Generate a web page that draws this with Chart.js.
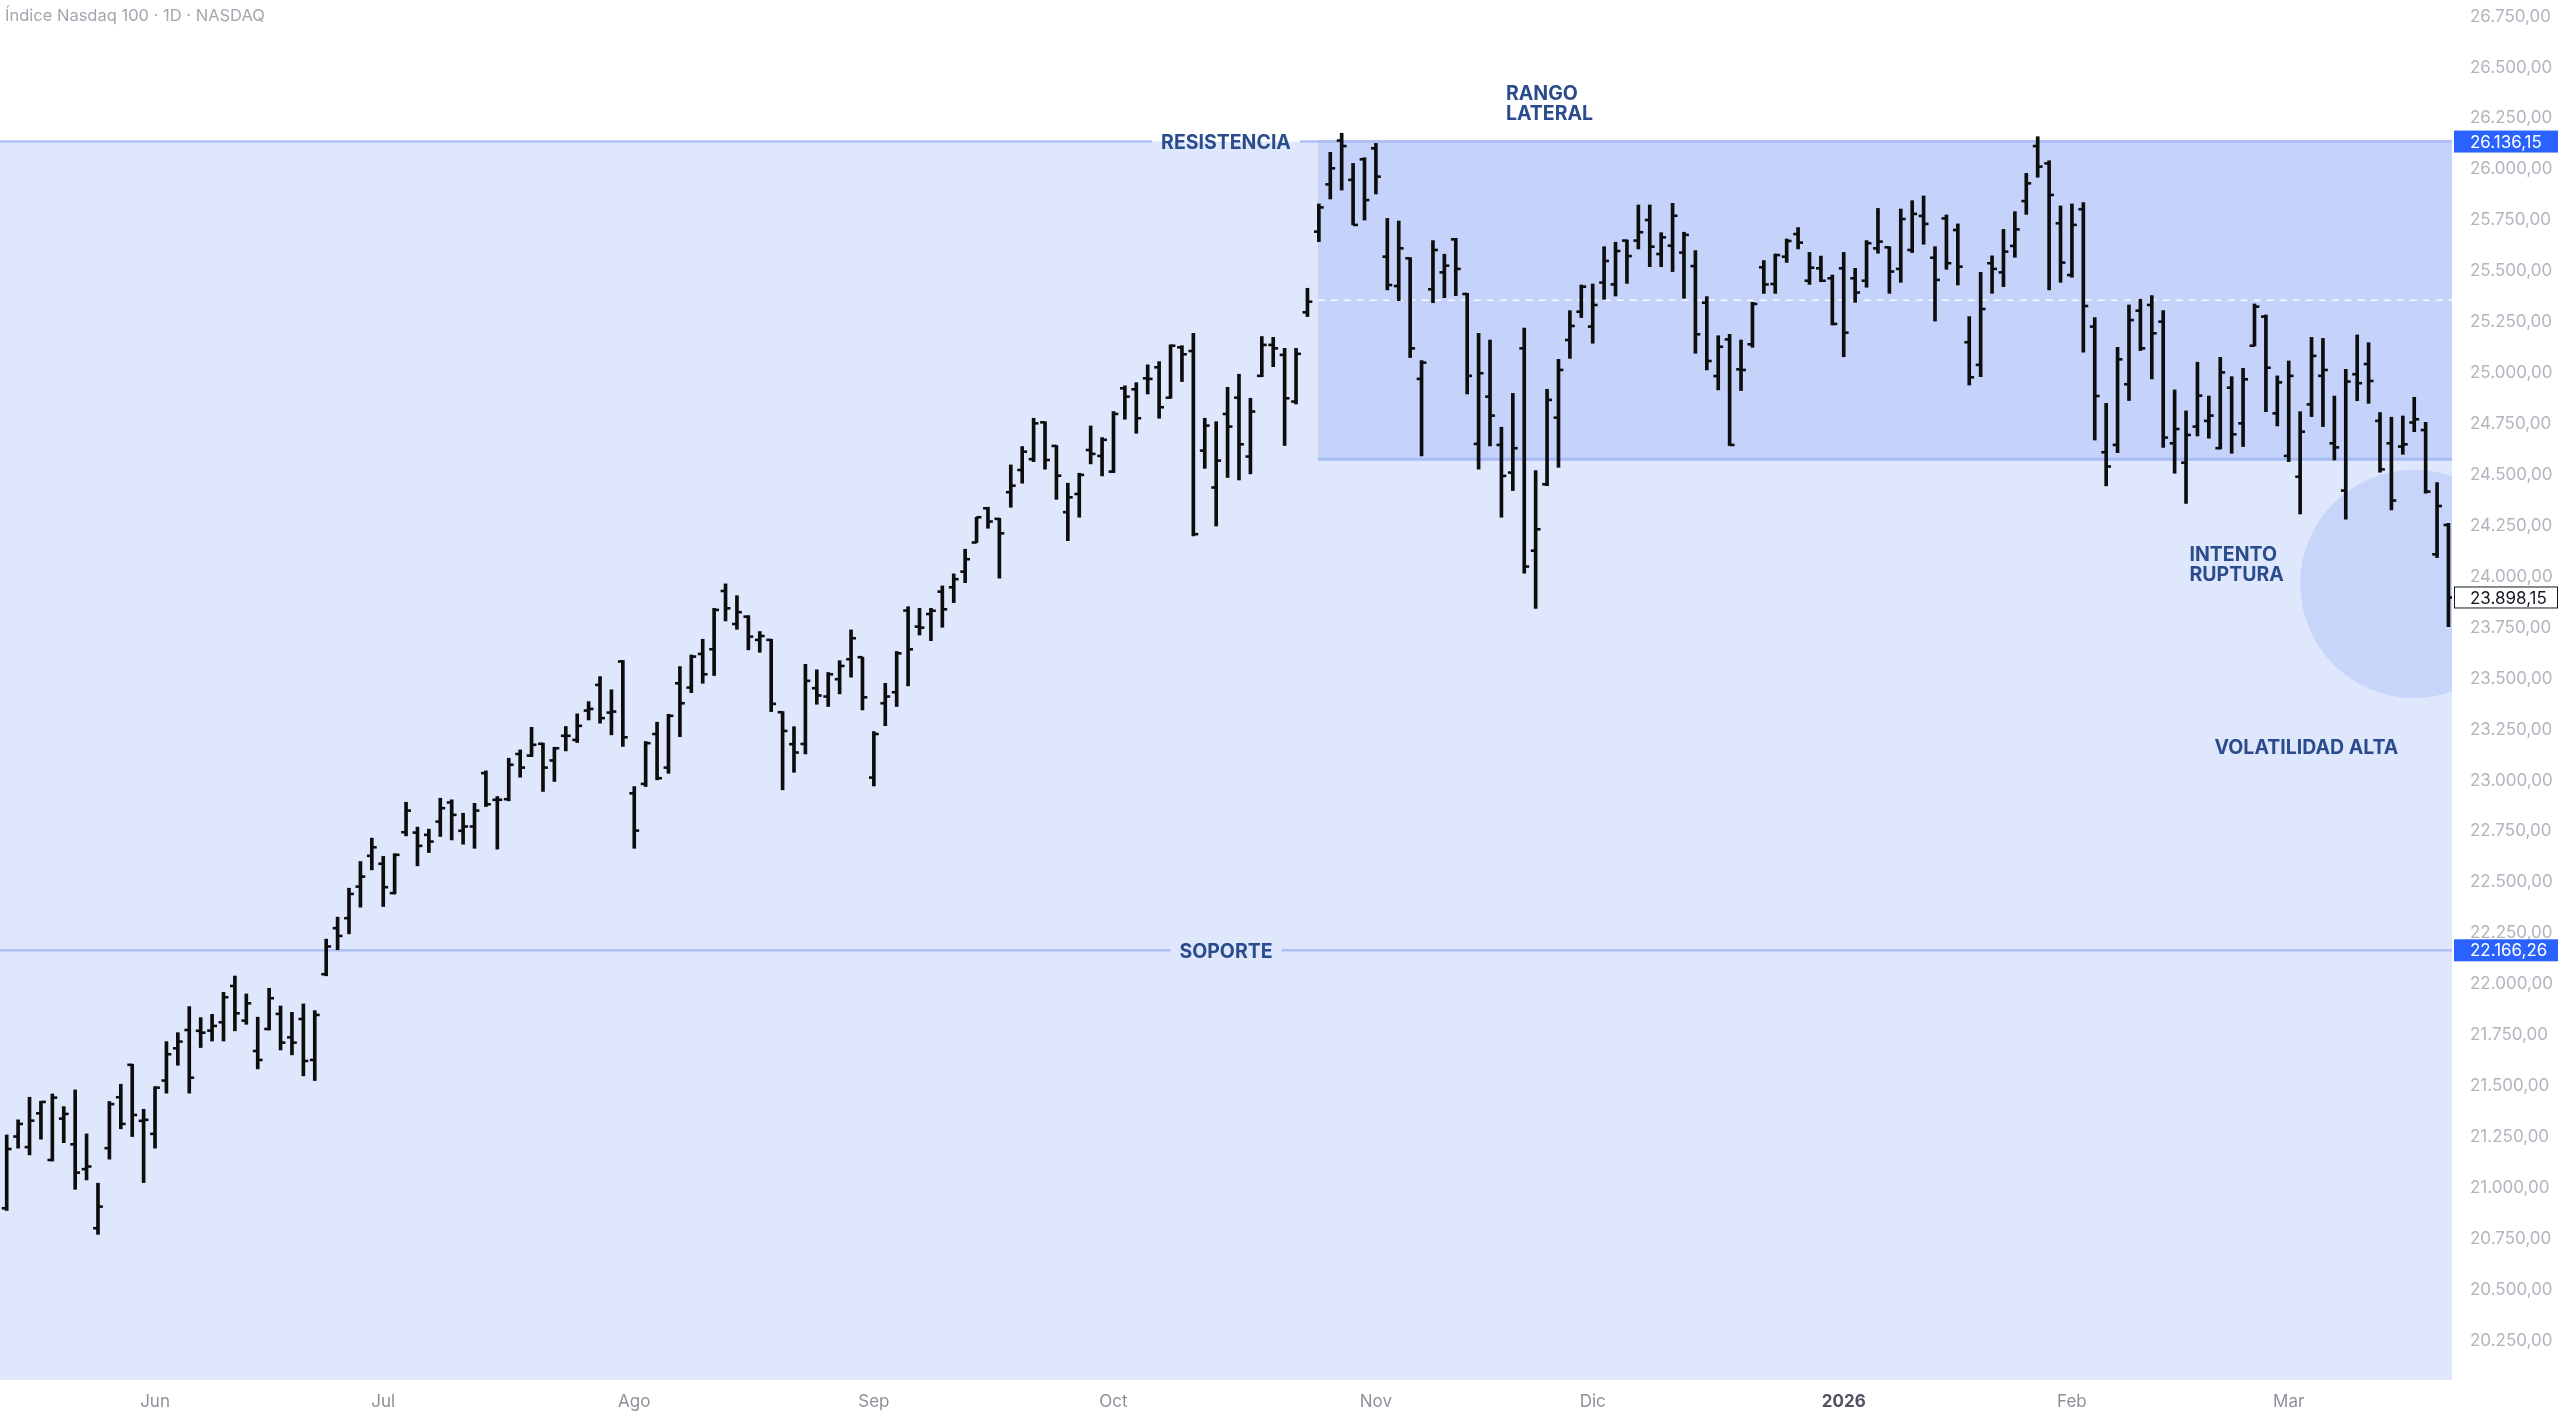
<!DOCTYPE html>
<html lang="es">
<head>
  <meta charset="UTF-8">
  <title>Índice Nasdaq 100 · 1D · NASDAQ</title>
  <script src="https://cdn.jsdelivr.net/npm/chart.js"></script>
  <style>
    html, body {
      margin: 0;
      padding: 0;
      background: #fff;
    }
    #wrap {
      position: relative;
      width: 2560px;
      height: 1414px;
    }
    #titulo {
      position: absolute;
      left: 5px;
      top: 5px;
      font: 16.5px Inter, sans-serif;
      color: #a3a6ae;
    }
  </style>
</head>
<body>
  <div id="wrap">
    <canvas id="grafico"></canvas>
    <div id="titulo">Índice Nasdaq 100 · 1D · NASDAQ</div>
  </div>

  <script>
    // velas diarias (OHLC), de mayo 2025 a marzo 2026
    const aperturas = [
      20900, 21252, 21200, 21366, 21137, 21340, 21214, 21092, 20802, 21195,
      21445, 21604, 21329, 21265, 21527, 21685, 21775, 21771, 21772, 21813,
      21991, 21821, 21672, 21780, 21854, 21739, 21829, 21628, 22049, 22275,
      22324, 22479, 22630, 22591, 22447, 22746, 22744, 22733, 22798, 22892,
      22753, 22774, 23036, 22905, 22908, 23130, 23122, 23180, 23098, 23219,
      23199, 23343, 23469, 23333, 23584, 22937, 22983, 23228, 23063, 23477,
      23456, 23621, 23644, 23930, 23768, 23804, 23690, 23690, 23335, 23178,
      23179, 23453, 23412, 23497, 23595, 23605, 23014, 23379, 23433, 23834,
      23755, 23817, 23927, 23948, 24025, 24168, 24336, 24284, 24415, 24524,
      24577, 24758, 24642, 24317, 24406, 24622, 24593, 24516, 24925, 24920,
      24974, 25028, 24879, 25126, 25108, 24619, 24438, 24799, 24879, 24590,
      24986, 25138, 25089, 24860, 25298, 25694, 25926, 26141, 25948, 26049,
      26103, 25571, 25427, 25563, 24971, 25411, 25494, 25656, 25388, 24652,
      24884, 24647, 24511, 25121, 24128, 24454, 24781, 25162, 25301, 25228,
      25444, 25435, 25650, 25650, 25751, 25584, 25625, 25591, 25525, 25345,
      24985, 25165, 25018, 25141, 25519, 25437, 25571, 25682, 25453, 25514,
      25465, 25514, 25465, 25453, 25612, 25617, 25511, 25604, 25771, 25566,
      25759, 25702, 25151, 25040, 25539, 25494, 25624, 25844, 26114, 26029,
      25735, 25481, 25804, 25228, 24611, 24647, 24945, 25306, 25334, 25252,
      24655, 24560, 24737, 24765, 24631, 24928, 24753, 25134, 25277, 24802,
      24593, 24491, 24846, 24986, 24655, 24423, 24994, 25044, 24765, 24655,
      24639, 24757, 24720, 24110, 24254
    ];
    const maximos = [
      21260, 21334, 21445, 21425, 21461, 21399, 21481, 21265, 21023, 21424,
      21509, 21607, 21386, 21497, 21718, 21762, 21890, 21836, 21852, 21960,
      22040, 21952, 21838, 21980, 21893, 21862, 21903, 21870, 22221, 22329,
      22471, 22602, 22717, 22627, 22640, 22893, 22771, 22761, 22913, 22905,
      22839, 22888, 23047, 22921, 23109, 23150, 23261, 23183, 23163, 23265,
      23327, 23387, 23510, 23445, 23589, 22970, 23191, 23286, 23325, 23559,
      23616, 23693, 23845, 23965, 23907, 23809, 23731, 23693, 23338, 23264,
      23570, 23543, 23530, 23588, 23739, 23605, 23240, 23477, 23633, 23853,
      23845, 23845, 23955, 24014, 24135, 24292, 24341, 24287, 24549, 24639,
      24778, 24761, 24644, 24459, 24508, 24740, 24683, 24811, 24937, 24953,
      25040, 25056, 25138, 25134, 25195, 24778, 24761, 24930, 24994, 24876,
      25179, 25175, 25121, 25121, 25416, 25830, 26083, 26177, 26029, 26057,
      26127, 25759, 25746, 25566, 25061, 25650, 25583, 25661, 25391, 25195,
      25162, 24734, 24900, 25220, 24521, 24920, 25067, 25306, 25432, 25437,
      25620, 25642, 25653, 25825, 25825, 25689, 25833, 25691, 25601, 25375,
      25183, 25190, 25162, 25347, 25552, 25584, 25658, 25714, 25592, 25574,
      25481, 25592, 25514, 25650, 25808, 25620, 25805, 25846, 25869, 25620,
      25776, 25732, 25277, 25494, 25575, 25705, 25792, 25980, 26160, 26042,
      25820, 25830, 25836, 25272, 24851, 25126, 25334, 25362, 25380, 25306,
      24917, 24814, 25053, 24887, 25077, 24982, 25023, 25339, 25285, 24986,
      25059, 24810, 25175, 25170, 24887, 25018, 25187, 25149, 24806, 24783,
      24789, 24881, 24758, 24462, 24262
    ];
    const minimos = [
      20889, 21195, 21162, 21239, 21132, 21222, 20993, 21039, 20772, 21141,
      21290, 21252, 21026, 21195, 21465, 21602, 21465, 21689, 21721, 21721,
      21771, 21803, 21584, 21775, 21677, 21653, 21550, 21527, 22041, 22169,
      22247, 22378, 22561, 22381, 22443, 22728, 22581, 22646, 22725, 22708,
      22687, 22667, 22872, 22663, 22900, 23016, 23117, 22946, 22995, 23145,
      23186, 23297, 23281, 23224, 23167, 22667, 22970, 23003, 23035, 23215,
      23431, 23477, 23515, 23783, 23742, 23641, 23629, 23338, 22954, 23040,
      23130, 23374, 23363, 23425, 23507, 23346, 22973, 23269, 23363, 23464,
      23714, 23686, 23752, 23873, 23971, 24168, 24238, 23993, 24341, 24459,
      24565, 24528, 24380, 24177, 24292, 24554, 24495, 24511, 24773, 24704,
      24897, 24778, 24876, 24958, 24200, 24532, 24249, 24487, 24475, 24505,
      24982, 25031, 24644, 24848, 25277, 25645, 25854, 25898, 25727, 25751,
      25879, 25408, 25355, 25076, 24593, 25345, 25370, 25380, 24897, 24528,
      24642, 24292, 24423, 24017, 23845, 24447, 24537, 25072, 25272, 25146,
      25362, 25378, 25440, 25609, 25522, 25522, 25498, 25367, 25097, 25015,
      24917, 24644, 24914, 25126, 25391, 25391, 25543, 25609, 25435, 25448,
      25236, 25080, 25347, 25421, 25588, 25391, 25445, 25591, 25632, 25255,
      25509, 25432, 24941, 24982, 25391, 25424, 25568, 25779, 25961, 25408,
      25445, 25470, 25102, 24671, 24446, 24609, 24865, 25110, 24971, 24635,
      24508, 24360, 24691, 24680, 24627, 24606, 24639, 25133, 24810, 24740,
      24565, 24308, 24786, 24737, 24573, 24282, 24864, 24851, 24513, 24328,
      24601, 24712, 24410, 24094, 23755
    ];
    const cierres = [
      21191, 21314, 21330, 21422, 21443, 21363, 21075, 21105, 20908, 21411,
      21314, 21358, 21334, 21492, 21656, 21718, 21541, 21762, 21795, 21936,
      21857, 21906, 21628, 21931, 21713, 21713, 21623, 21849, 22185, 22237,
      22443, 22528, 22672, 22476, 22635, 22852, 22679, 22700, 22864, 22831,
      22774, 22852, 22883, 22905, 23077, 23063, 23175, 23063, 23158, 23219,
      23268, 23351, 23306, 23338, 23212, 22754, 23183, 23011, 23317, 23379,
      23608, 23521, 23837, 23845, 23826, 23706, 23709, 23376, 23243, 23137,
      23489, 23417, 23521, 23562, 23698, 23408, 23228, 23412, 23624, 23644,
      23750, 23833, 23840, 23988, 24086, 24292, 24271, 24213, 24447, 24614,
      24753, 24573, 24496, 24390, 24500, 24603, 24672, 24799, 24884, 24778,
      24971, 24832, 25134, 25092, 24209, 24742, 24570, 24737, 24650, 24811,
      25138, 25121, 24876, 25094, 25350, 25813, 26005, 26114, 25727, 25849,
      25964, 25432, 25612, 25121, 25051, 25604, 25527, 25511, 24986, 24999,
      24791, 24495, 24631, 24050, 24233, 24868, 25015, 25231, 25424, 25334,
      25550, 25599, 25574, 25691, 25620, 25666, 25772, 25678, 25190, 25059,
      25129, 24647, 25015, 25339, 25435, 25579, 25648, 25640, 25517, 25453,
      25241, 25198, 25395, 25637, 25645, 25498, 25756, 25781, 25732, 25457,
      25539, 25522, 24979, 25314, 25511, 25596, 25705, 25931, 26013, 25874,
      25542, 25727, 25329, 24887, 24541, 25067, 25260, 25121, 25195, 24683,
      24725, 24696, 24889, 24791, 25003, 24699, 24969, 25326, 25026, 24954,
      24986, 24712, 25084, 25015, 24635, 24958, 24950, 24961, 24527, 24374,
      24650, 24773, 24418, 24347, 23898.15
    ];

    // eje X: primera sesión de cada mes
    const mesesIdx = [13, 33, 55, 76, 97, 120, 139, 161, 181, 200];
    const mesesTxt = ["Jun", "Jul", "Ago", "Sep", "Oct", "Nov", "Dic", "2026", "Feb", "Mar"];

    // eje de precios
    const precioTicks = [
      20250, 20500, 20750, 21000, 21250, 21500, 21750, 22000, 22250, 22500,
      22750, 23000, 23250, 23500, 23750, 24000, 24250, 24500, 24750, 25000,
      25250, 25500, 25750, 26000, 26250, 26500, 26750
    ];

    // niveles dibujados
    const resistencia = 26136.15;
    const soporte = 22166.26;
    const rangoBajo = 24577;
    const rangoInicio = 114.9;
    const circulo = { x: 211, y: 23965, radio: 560 };

    const fmt = v => v.toLocaleString("de-DE", { minimumFractionDigits: 2, maximumFractionDigits: 2 });
    const azulTexto = "#2b4c8c";
    const fuenteNota = "700 19.5px Inter, sans-serif";
    const esAnio = v => mesesTxt[mesesIdx.indexOf(v)] === "2026";

    const anotaciones = {
      id: "anotaciones",
      beforeDatasetsDraw(chart) {
        const { ctx, chartArea: a, scales: { x, y } } = chart;
        const yRes = y.getPixelForValue(resistencia);
        const ySop = y.getPixelForValue(soporte);
        const yBajo = y.getPixelForValue(rangoBajo);
        const xr = x.getPixelForValue(rangoInicio);
        const centro = (a.left + a.right) / 2;

        ctx.save();
        ctx.beginPath();
        ctx.rect(a.left, a.top, a.right - a.left, a.bottom - a.top);
        ctx.clip();

        // zona clara bajo la resistencia
        ctx.fillStyle = "#dfe7fd";
        ctx.fillRect(a.left, yRes, a.right - a.left, a.bottom - yRes);

        // rango lateral
        ctx.fillStyle = "#c5d3fb";
        ctx.fillRect(xr, yRes, a.right - xr, yBajo - yRes);
        ctx.strokeStyle = "#a8bcf4";
        ctx.lineWidth = 3;
        ctx.beginPath();
        ctx.moveTo(xr, yRes); ctx.lineTo(a.right, yRes);
        ctx.moveTo(xr, yBajo); ctx.lineTo(a.right, yBajo);
        ctx.stroke();

        // línea media discontinua
        const yMed = y.getPixelForValue((resistencia + rangoBajo) / 2);
        ctx.strokeStyle = "rgba(255,255,255,0.85)";
        ctx.lineWidth = 1.5;
        ctx.setLineDash([7, 6]);
        ctx.beginPath();
        ctx.moveTo(xr, yMed); ctx.lineTo(a.right, yMed);
        ctx.stroke();
        ctx.setLineDash([]);

        // círculo del intento de ruptura
        const cx = x.getPixelForValue(circulo.x);
        const cy = y.getPixelForValue(circulo.y);
        const r = y.getPixelForValue(circulo.y - circulo.radio) - cy;
        ctx.fillStyle = "#c7d5fb";
        ctx.beginPath();
        ctx.arc(cx, cy, r, 0, Math.PI * 2);
        ctx.fill();

        // líneas horizontales con etiqueta al centro
        ctx.font = fuenteNota;
        ctx.textAlign = "center";
        ctx.textBaseline = "middle";
        [[yRes, "RESISTENCIA"], [ySop, "SOPORTE"]].forEach(([yy, txt]) => {
          const w = ctx.measureText(txt).width / 2 + 9;
          ctx.strokeStyle = "#aec0f4";
          ctx.lineWidth = 2.5;
          ctx.beginPath();
          ctx.moveTo(a.left, yy); ctx.lineTo(centro - w, yy);
          ctx.moveTo(centro + w, yy); ctx.lineTo(a.right, yy);
          ctx.stroke();
          ctx.fillStyle = azulTexto;
          ctx.fillText(txt, centro, yy + 2);
        });

        // textos libres
        ctx.textAlign = "left";
        const notas = [
          [131.4, 26367, "RANGO"], [131.4, 26269, "LATERAL"],
          [191.3, 24107, "INTENTO"], [191.3, 24009, "RUPTURA"],
          [193.5, 23160, "VOLATILIDAD ALTA"]
        ];
        notas.forEach(([nx, ny, txt]) => {
          ctx.fillText(txt, x.getPixelForValue(nx), y.getPixelForValue(ny));
        });
        ctx.restore();
      },
      afterDraw(chart) {
        const { ctx, chartArea: a, scales: { y } } = chart;
        const etiqueta = (valor, fondo, color, borde) => {
          const yy = y.getPixelForValue(valor);
          const x0 = a.right + 2;
          const w = chart.width - x0 - 2;
          ctx.fillStyle = fondo;
          ctx.fillRect(x0, yy - 11, w, 22);
          if (borde) {
            ctx.strokeStyle = borde;
            ctx.lineWidth = 1;
            ctx.strokeRect(x0 + 0.5, yy - 10.5, w - 1, 21);
          }
          ctx.fillStyle = color;
          ctx.font = "17px Inter, sans-serif";
          ctx.textAlign = "left";
          ctx.textBaseline = "middle";
          ctx.fillText(fmt(valor), a.right + 18, yy + 1);
        };
        ctx.save();
        etiqueta(resistencia, "#2962ff", "#ffffff");
        etiqueta(soporte, "#2962ff", "#ffffff");
        etiqueta(cierres[cierres.length - 1], "#ffffff", "#131722", "#131722");
        ctx.restore();
      }
    };

    const idx = cierres.map((_, i) => i);

    const ctx = document.getElementById("grafico").getContext("2d");
    const chart = new Chart(ctx, {
      type: "bar",
      data: {
        datasets: [
          {
            type: "bar",
            data: idx.map(i => ({ x: i, y: [minimos[i], maximos[i]] })),
            backgroundColor: "#0d0d0d",
            borderWidth: 0,
            barThickness: 3
          },
          {
            type: "scatter",
            data: idx.map(i => ({ x: i - 0.21, y: aperturas[i] })),
            pointStyle: "line",
            pointRadius: 2.5,
            pointBorderWidth: 2.6,
            borderColor: "#0d0d0d"
          },
          {
            type: "scatter",
            data: idx.map(i => ({ x: i + 0.21, y: cierres[i] })),
            pointStyle: "line",
            pointRadius: 2.5,
            pointBorderWidth: 2.6,
            borderColor: "#0d0d0d"
          }
        ]
      },
      options: {
        responsive: true,
        maintainAspectRatio: false,
        animation: false,
        events: [],
        layout: { padding: 0, autoPadding: false },
        plugins: {
          legend: { display: false },
          tooltip: { enabled: false }
        },
        scales: {
          x: {
            type: "linear",
            min: -0.587,
            max: 214.31,
            offset: false,
            grid: { display: false, drawTicks: false },
            border: { display: false },
            afterBuildTicks: s => { s.ticks = mesesIdx.map(v => ({ value: v })); },
            afterFit: s => { s.height = 34; s.paddingLeft = 0; s.paddingRight = 0; },
            ticks: {
              autoSkip: false,
              maxRotation: 0,
              padding: 12,
              font: c => ({ family: "Inter, sans-serif", size: 17, weight: esAnio(c.tick && c.tick.value) ? "bold" : "normal" }),
              color: c => (esAnio(c.tick && c.tick.value) ? "#50535e" : "#8d9099"),
              callback: v => mesesTxt[mesesIdx.indexOf(v)]
            }
          },
          y: {
            type: "linear",
            position: "right",
            min: 20057,
            max: 26831,
            grid: { display: false, drawTicks: false },
            border: { display: false },
            afterBuildTicks: s => { s.ticks = precioTicks.map(v => ({ value: v })); },
            afterFit: s => { s.width = 108; s.paddingTop = 0; s.paddingBottom = 0; },
            ticks: {
              padding: 18,
              font: { family: "Inter, sans-serif", size: 17 },
              color: "#b2b5be",
              callback: v => fmt(v)
            }
          }
        }
      },
      plugins: [anotaciones]
    });
  </script>
</body>
</html>
